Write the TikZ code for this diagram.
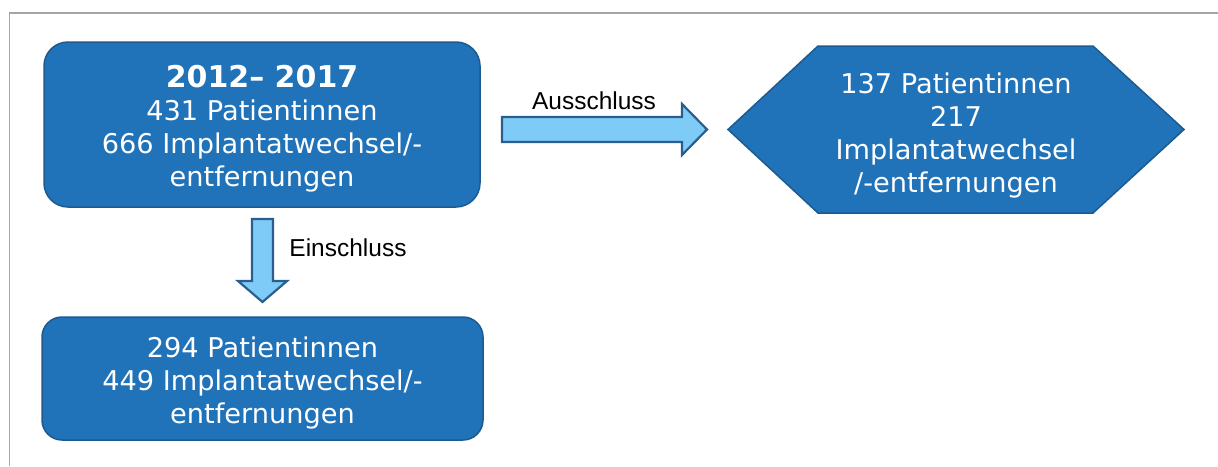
\documentclass[tikz,border=0pt]{standalone}
\usepackage{fontspec}
\setmainfont{DejaVu Sans}
\newfontfamily\labelfont{Liberation Sans}
\definecolor{boxfill}{HTML}{2072B9}
\definecolor{boxline}{HTML}{1C5A90}
\definecolor{arrfill}{HTML}{7FCBF7}
\definecolor{arrline}{HTML}{2A5E8E}
\definecolor{framegray}{HTML}{A6A6A6}
\tikzset{
  box/.style={draw=boxline, fill=boxfill, line width=1.5pt, rounded corners=24pt,
    text=white, align=center, inner sep=0pt,
    font=\fontsize{27.2}{33}\selectfont},
  hextext/.style={text=white, align=center, inner sep=0pt,
    font=\fontsize{27.2}{33}\selectfont},
  hexshape/.style={draw=boxline, fill=boxfill, line width=1.5pt, line join=miter},
  blockarrow/.style={draw=arrline, fill=arrfill, line width=2.2pt, line join=miter},
  lbl/.style={text=black, inner sep=0pt, font=\labelfont\fontsize{24.5}{28}\selectfont},
  frameline/.style={draw=framegray, line width=1.5pt}
}
\begin{document}
\begin{tikzpicture}[x=1pt,y=-1pt]
\useasboundingbox (0,0) rectangle (1218,466);
% frame
\draw[frameline] (9.5,466) -- (9.5,13) -- (1218,13);
% boxes
\node[box, minimum width=436pt, minimum height=165pt] (top) at (262,124.5) {};
\node[text=white, align=center, inner sep=0pt, font=\fontsize{27.2}{33}\selectfont] (toptext) at (262,128.5)
  {\textbf{\fontsize{30}{33}\selectfont 2012– 2017}\\431 Patientinnen\\666 Implantatwechsel/-\\entfernungen};
\node[box, rounded corners=20pt, minimum width=441pt, minimum height=123pt] (bot) at (262.5,378.5) {};
\node[hextext] (bottext) at (262.5,382.5)
  {294 Patientinnen\\449 Implantatwechsel/-\\entfernungen};
% hexagon
\coordinate (hw) at (728,129.5);
\coordinate (he) at (1184,129.5);
\draw[hexshape] (hw) -- (818,46) -- (1093,46) -- (he) -- (1093,213) -- (818,213) -- cycle;
\node[hextext] (ex) at (956,135) {137 Patientinnen\\217\\Implantatwechsel\\/-entfernungen};
% right block arrow
\draw[blockarrow] (502,117) -- (682,117) -- (682,104) -- (707,129.5) -- (682,155) -- (682,142) -- (502,142) -- cycle;
\node[lbl] (aus) at (594,101) {Ausschluss};
% down block arrow
\draw[blockarrow] (252,219) -- (273,219) -- (273,281) -- (287,281) -- (262.5,302) -- (238,281) -- (252,281) -- cycle;
\node[lbl] (ein) at (348,248) {Einschluss};
\end{tikzpicture}
\end{document}
